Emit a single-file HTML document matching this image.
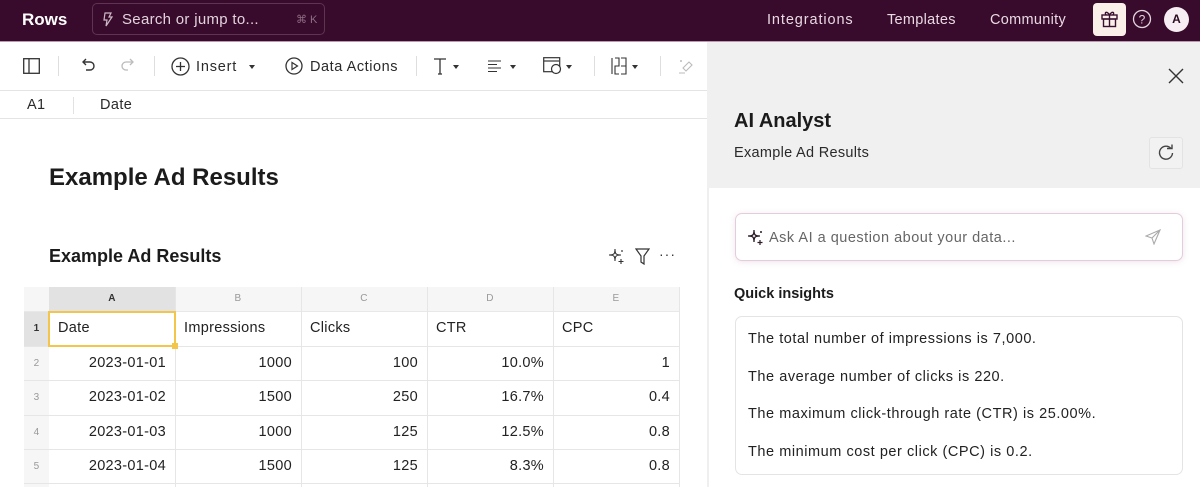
<!DOCTYPE html>
<html><head><meta charset="utf-8">
<style>
*{box-sizing:border-box;margin:0;padding:0}
html,body{width:1200px;height:487px;overflow:hidden;background:#fff;font-family:"Liberation Sans",sans-serif;color:#1d1d1d}
.a{position:absolute}
#top{left:0;top:0;width:1200px;height:42px;background:#380a2b;border-bottom:1px solid #b99aae}
.nav{color:#e9d9e3;font-size:14.5px;top:11px;letter-spacing:0.3px}
#tb{left:0;top:42px;width:707px;height:49px;border-bottom:1px solid #e4e4e4}
#fb{left:0;top:91px;width:707px;height:28px;border-bottom:1px solid #e4e4e4}
.sep{width:1px;height:20px;background:#dedede;top:56px}
.tt{font-size:14.5px;color:#2a2a2a;letter-spacing:0.8px}
.caret{width:0;height:0;border-left:3.5px solid transparent;border-right:3.5px solid transparent;border-top:4px solid #333}
.cell{position:absolute;font-size:14.5px;color:#222;letter-spacing:0.3px}
#rp{left:707px;top:42px;width:493px;height:445px;background:#fff;border-left:2px solid #efefef}
#rph{left:707px;top:42px;width:493px;height:146px;background:#f0f0f0}
.ins{position:absolute;left:748px;font-size:14.5px;color:#222;letter-spacing:0.55px}
</style></head><body>

<div id="top" class="a"></div>
<div class="a" style="left:22px;top:10px;color:#fff;font-weight:bold;font-size:17px;">Rows</div>
<div class="a" style="left:92px;top:3px;width:233px;height:32px;border:1px solid #5e3452;border-radius:5px;"></div>
<svg class="a" style="left:102px;top:12px" width="12" height="15" viewBox="0 0 12 15"><path d="M3 1h6l-2 4h3l-6 9 1-6H2z" fill="none" stroke="#cdb9c6" stroke-width="1.2"/></svg>
<div class="a" style="left:122px;top:11px;color:#e2d3dc;font-size:15px;letter-spacing:0.3px">Search or jump to...</div>
<div class="a" style="left:296px;top:13px;color:#8e6f84;font-size:11px">⌘ K</div>
<div class="a nav" style="left:767px;top:12px;letter-spacing:0.9px">Integrations</div>
<div class="a nav" style="left:887px;top:12px">Templates</div>
<div class="a nav" style="left:990px;top:12px">Community</div>
<div class="a" style="left:1093px;top:3px;width:33px;height:33px;background:#fbefe9;border-radius:4px"></div>
<svg class="a" style="left:1100px;top:10px" width="19" height="18" viewBox="0 0 19 18"><rect x="2" y="5" width="15" height="4" fill="none" stroke="#3a1030" stroke-width="1.4"/><rect x="3.5" y="9" width="12" height="7.5" fill="none" stroke="#3a1030" stroke-width="1.4"/><path d="M9.5 5v11.5M9.5 5C7 1 4 2 6 5M9.5 5c2.5-4 5.5-3 3.5 0" fill="none" stroke="#3a1030" stroke-width="1.4"/></svg>
<svg class="a" style="left:1132px;top:9px" width="20" height="20" viewBox="0 0 20 20"><circle cx="10" cy="10" r="8.5" fill="none" stroke="#e3d3dd" stroke-width="1.3"/><text x="10" y="14.5" text-anchor="middle" font-size="12" fill="#e3d3dd" font-family="Liberation Sans">?</text></svg>
<div class="a" style="left:1164px;top:7px;width:25px;height:25px;border-radius:50%;background:#f6eef2;color:#2a0a20;font-size:12px;font-weight:bold;text-align:center;line-height:25px">A</div>

<!-- toolbar -->
<div id="tb" class="a"></div>
<svg class="a" style="left:23px;top:58px" width="17" height="16" viewBox="0 0 17 16"><rect x="0.7" y="0.7" width="15.6" height="14.6" fill="none" stroke="#333" stroke-width="1.3"/><line x1="6" y1="1" x2="6" y2="15" stroke="#333" stroke-width="1.3"/></svg>
<div class="a sep" style="left:58px"></div>
<svg class="a" style="left:80px;top:58px" width="16" height="16" viewBox="0 0 16 16"><path d="M4 4h6a4 4 0 0 1 0 8H6" fill="none" stroke="#333" stroke-width="1.4"/><path d="M6 1L3 4l3 3" fill="none" stroke="#333" stroke-width="1.4"/></svg>
<svg class="a" style="left:120px;top:58px" width="16" height="16" viewBox="0 0 16 16"><path d="M12 4H6a4 4 0 0 0 0 8h2" fill="none" stroke="#bbb" stroke-width="1.3"/><path d="M10 1l3 3-3 3" fill="none" stroke="#bbb" stroke-width="1.3"/></svg>
<div class="a sep" style="left:154px"></div>
<svg class="a" style="left:171px;top:57px" width="19" height="19" viewBox="0 0 19 19"><circle cx="9.5" cy="9.5" r="8.5" fill="none" stroke="#333" stroke-width="1.3"/><path d="M9.5 5v9M5 9.5h9" stroke="#333" stroke-width="1.3"/></svg>
<div class="a tt" style="left:196px;top:59px">Insert</div>
<div class="a caret" style="left:249px;top:65px"></div>
<svg class="a" style="left:285px;top:57px" width="18" height="18" viewBox="0 0 18 18"><circle cx="9" cy="9" r="8" fill="none" stroke="#333" stroke-width="1.3"/><path d="M7 5.5v7l5.5-3.5z" fill="none" stroke="#333" stroke-width="1.2"/></svg>
<div class="a tt" style="left:310px;top:59px;letter-spacing:0.55px">Data Actions</div>
<div class="a sep" style="left:416px"></div>
<svg class="a" style="left:433px;top:57px" width="14" height="18" viewBox="0 0 14 18"><path d="M1 2h12M7 2v15M5 17h4" stroke="#333" stroke-width="1.3" fill="none"/></svg>
<div class="a caret" style="left:453px;top:65px"></div>
<svg class="a" style="left:488px;top:59px" width="14" height="13" viewBox="0 0 14 13"><path d="M0 2h13M0 5.5h9M0 9h13M0 12.5h9" stroke="#333" stroke-width="1.1"/></svg>
<div class="a caret" style="left:510px;top:65px"></div>
<svg class="a" style="left:543px;top:57px" width="20" height="18" viewBox="0 0 20 18"><rect x="0.7" y="0.7" width="16" height="14" fill="none" stroke="#333" stroke-width="1.2"/><line x1="1" y1="4" x2="16" y2="4" stroke="#333" stroke-width="1.2"/><circle cx="13" cy="12" r="4.5" fill="#fff" stroke="#333" stroke-width="1.2"/></svg>
<div class="a caret" style="left:566px;top:65px"></div>
<div class="a sep" style="left:594px"></div>
<svg class="a" style="left:611px;top:57px" width="16" height="18" viewBox="0 0 16 18"><path d="M1 1v16M4 1h4v8H4v8h4M10 1h5v16h-5M10 9h5" fill="none" stroke="#333" stroke-width="1.1"/></svg>
<div class="a caret" style="left:632px;top:65px"></div>
<div class="a sep" style="left:660px"></div>
<svg class="a" style="left:678px;top:58px" width="16" height="16" viewBox="0 0 16 16"><path d="M5 10l6-6 3 3-6 6z" fill="none" stroke="#bbb" stroke-width="1.1"/><path d="M1 15h6M2 3h2M3 2v2" stroke="#bbb" stroke-width="1"/></svg>

<!-- formula bar -->
<div id="fb" class="a"></div>
<div class="a tt" style="left:27px;top:97px;letter-spacing:0.3px">A1</div>
<div class="a" style="left:73px;top:97px;width:1px;height:17px;background:#e2e2e2"></div>
<div class="a tt" style="left:100px;top:97px;letter-spacing:0.4px">Date</div>

<!-- titles -->
<div class="a" style="left:49px;top:164px;font-size:24px;font-weight:bold;color:#1b1b1b">Example Ad Results</div>
<div class="a" style="left:49px;top:246px;font-size:18px;font-weight:bold;color:#1b1b1b">Example Ad Results</div>
<svg class="a" style="left:608px;top:248px" width="17" height="17" viewBox="0 0 17 17"><path d="M7 1C7 6 6 7 1 7c5 0 6 1 6 6 0-5 1-6 6-6-5 0-6-1-6-6z" fill="none" stroke="#333" stroke-width="1.1"/><path d="M13 11v5M10.5 13.5h5" stroke="#333" stroke-width="1.1"/><circle cx="14" cy="3" r="0.9" fill="#333"/></svg>
<svg class="a" style="left:635px;top:248px" width="15" height="17" viewBox="0 0 15 17"><path d="M1 1h13L9 8v8l-3-2V8z" fill="none" stroke="#333" stroke-width="1.2"/></svg>
<div class="a" style="left:659px;top:246px;font-size:14px;color:#333;letter-spacing:1px">···</div>

<!-- table -->
<div class="a" style="left:24px;top:287px;width:655px;height:200px;border-left:1px solid #e8e8e8"></div>
<div class="a" style="left:24px;top:287px;width:655px;height:25px;background:#f6f6f6;border-bottom:1px solid #e8e8e8"></div>
<div class="a" style="left:49px;top:287px;width:126px;height:25px;background:#e2e2e2"></div>
<div class="a" style="left:24px;top:312px;width:25px;height:175px;background:#f6f6f6"></div>
<div class="a" style="left:24px;top:312px;width:25px;height:34px;background:#e2e2e2"></div>
<div class="a" style="left:175px;top:287px;width:1px;height:200px;background:#e6e6e6"></div>
<div class="a" style="left:301px;top:287px;width:1px;height:200px;background:#e6e6e6"></div>
<div class="a" style="left:427px;top:287px;width:1px;height:200px;background:#e6e6e6"></div>
<div class="a" style="left:553px;top:287px;width:1px;height:200px;background:#e6e6e6"></div>
<div class="a" style="left:679px;top:287px;width:1px;height:200px;background:#e6e6e6"></div>
<div class="a" style="left:24px;top:346px;width:656px;height:1px;background:#e6e6e6"></div>
<div class="a" style="left:24px;top:380px;width:656px;height:1px;background:#e6e6e6"></div>
<div class="a" style="left:24px;top:415px;width:656px;height:1px;background:#e6e6e6"></div>
<div class="a" style="left:24px;top:449px;width:656px;height:1px;background:#e6e6e6"></div>
<div class="a" style="left:24px;top:483px;width:656px;height:1px;background:#e6e6e6"></div>
<div class="cell" style="left:49px;top:293px;width:126px;text-align:center;font-size:10px;font-weight:bold;color:#333">A</div>
<div class="cell" style="left:175px;top:293px;width:126px;text-align:center;font-size:10px;color:#999">B</div>
<div class="cell" style="left:301px;top:293px;width:126px;text-align:center;font-size:10px;color:#999">C</div>
<div class="cell" style="left:427px;top:293px;width:126px;text-align:center;font-size:10px;color:#999">D</div>
<div class="cell" style="left:553px;top:293px;width:126px;text-align:center;font-size:10px;color:#999">E</div>
<div class="cell" style="left:24px;top:323px;width:25px;text-align:center;font-size:10px;font-weight:bold;color:#333">1</div>
<div class="cell" style="left:24px;top:358px;width:25px;text-align:center;font-size:10px;color:#999">2</div>
<div class="cell" style="left:24px;top:392px;width:25px;text-align:center;font-size:10px;color:#999">3</div>
<div class="cell" style="left:24px;top:427px;width:25px;text-align:center;font-size:10px;color:#999">4</div>
<div class="cell" style="left:24px;top:461px;width:25px;text-align:center;font-size:10px;color:#999">5</div>
<div class="a" style="left:48px;top:311px;width:128px;height:36px;border:2px solid #f3c64b"></div>
<div class="a" style="left:172px;top:343px;width:6px;height:6px;background:#f3c64b"></div>
<div class="cell" style="left:58px;top:320px">Date</div>
<div class="cell" style="left:184px;top:320px">Impressions</div>
<div class="cell" style="left:310px;top:320px">Clicks</div>
<div class="cell" style="left:436px;top:320px">CTR</div>
<div class="cell" style="left:562px;top:320px">CPC</div>

<div class="cell" style="left:49px;top:355px;width:117px;text-align:right">2023-01-01</div>
<div class="cell" style="left:175px;top:355px;width:117px;text-align:right">1000</div>
<div class="cell" style="left:301px;top:355px;width:117px;text-align:right">100</div>
<div class="cell" style="left:427px;top:355px;width:117px;text-align:right">10.0%</div>
<div class="cell" style="left:553px;top:355px;width:117px;text-align:right">1</div>

<div class="cell" style="left:49px;top:389px;width:117px;text-align:right">2023-01-02</div>
<div class="cell" style="left:175px;top:389px;width:117px;text-align:right">1500</div>
<div class="cell" style="left:301px;top:389px;width:117px;text-align:right">250</div>
<div class="cell" style="left:427px;top:389px;width:117px;text-align:right">16.7%</div>
<div class="cell" style="left:553px;top:389px;width:117px;text-align:right">0.4</div>

<div class="cell" style="left:49px;top:424px;width:117px;text-align:right">2023-01-03</div>
<div class="cell" style="left:175px;top:424px;width:117px;text-align:right">1000</div>
<div class="cell" style="left:301px;top:424px;width:117px;text-align:right">125</div>
<div class="cell" style="left:427px;top:424px;width:117px;text-align:right">12.5%</div>
<div class="cell" style="left:553px;top:424px;width:117px;text-align:right">0.8</div>

<div class="cell" style="left:49px;top:458px;width:117px;text-align:right">2023-01-04</div>
<div class="cell" style="left:175px;top:458px;width:117px;text-align:right">1500</div>
<div class="cell" style="left:301px;top:458px;width:117px;text-align:right">125</div>
<div class="cell" style="left:427px;top:458px;width:117px;text-align:right">8.3%</div>
<div class="cell" style="left:553px;top:458px;width:117px;text-align:right">0.8</div>

<!-- right panel -->
<div id="rp" class="a"></div>
<div id="rph" class="a"></div>
<svg class="a" style="left:1168px;top:68px" width="16" height="16" viewBox="0 0 16 16"><path d="M1 1l14 14M15 1L1 15" stroke="#333" stroke-width="1.4"/></svg>
<div class="a" style="left:734px;top:110px;font-size:20px;font-weight:bold;color:#1b1b1b">AI Analyst</div>
<div class="a" style="left:734px;top:145px;font-size:14.5px;color:#2a2a2a;letter-spacing:0.3px">Example Ad Results</div>
<div class="a" style="left:1149px;top:137px;width:34px;height:32px;border:1px solid #e3e3e3;border-radius:3px;background:#f2f2f2"></div>
<svg class="a" style="left:1157px;top:144px" width="18" height="18" viewBox="0 0 18 18"><path d="M14 4.5A6.5 6.5 0 1 0 15.5 9" fill="none" stroke="#444" stroke-width="1.4"/><path d="M10 3.5h5v-4" fill="none" stroke="#444" stroke-width="1.4" transform="translate(0,1)"/></svg>

<div class="a" style="left:735px;top:213px;width:448px;height:48px;border:1px solid #e2cedb;border-radius:7px;background:#fff;box-shadow:0 1px 6px rgba(200,140,180,0.25)"></div>
<svg class="a" style="left:747px;top:229px" width="17" height="17" viewBox="0 0 17 17"><path d="M7 1C7 6 6 7 1 7c5 0 6 1 6 6 0-5 1-6 6-6-5 0-6-1-6-6z" fill="none" stroke="#2a1a26" stroke-width="1.3"/><path d="M13 11v5M10.5 13.5h5" stroke="#2a1a26" stroke-width="1.2"/><circle cx="14" cy="3" r="1" fill="#2a1a26"/></svg>
<div class="a" style="left:769px;top:230px;font-size:14.5px;color:#666;letter-spacing:0.5px">Ask AI a question about your data...</div>
<svg class="a" style="left:1145px;top:229px" width="16" height="16" viewBox="0 0 16 16"><path d="M15 1L1 7l6 2 2 6z M15 1L7 9" fill="none" stroke="#aaa" stroke-width="1.1"/></svg>

<div class="a" style="left:734px;top:286px;font-size:14.5px;font-weight:bold;color:#1b1b1b">Quick insights</div>
<div class="a" style="left:735px;top:316px;width:448px;height:159px;border:1px solid #e4e4e4;border-radius:7px;background:#fff"></div>
<div class="ins" style="top:331px">The total number of impressions is 7,000.</div>
<div class="ins" style="top:369px">The average number of clicks is 220.</div>
<div class="ins" style="top:406px">The maximum click-through rate (CTR) is 25.00%.</div>
<div class="ins" style="top:444px">The minimum cost per click (CPC) is 0.2.</div>
</body></html>
